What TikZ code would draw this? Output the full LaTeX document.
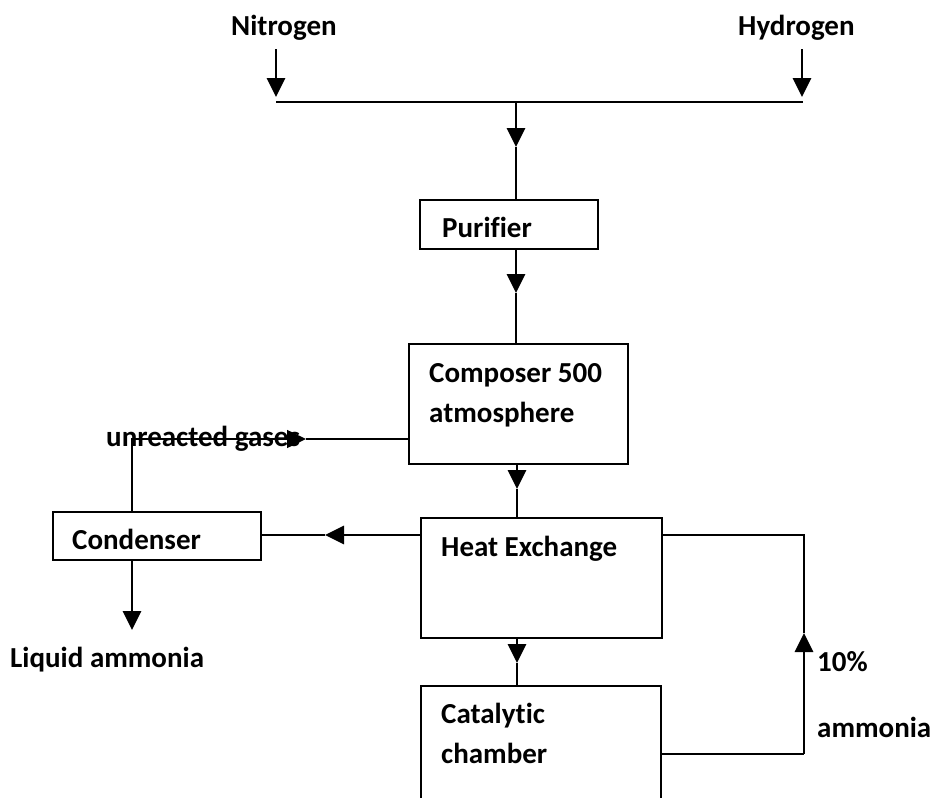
\documentclass[tikz,border=0pt]{standalone}
\usepackage{fontspec}
\setmainfont{Carlito}[Ligatures=NoCommon]
\usetikzlibrary{arrows.meta}
\tikzset{
  box/.style={draw, line width=1.6pt, inner sep=0pt, anchor=north west},
  lbl/.style={font=\fontsize{29}{40}\selectfont\bfseries, inner sep=0pt, anchor=base west, align=left},
  pipe/.style={line width=1.6pt},
  head/.style={-{Triangle[length=19pt,width=18pt]}},
  flow/.style={line width=2.8pt, head}
}
\begin{document}
\begin{tikzpicture}[x=1pt,y=-1pt]
        \useasboundingbox (0,0) rectangle (932,798);
        \clip (0,0) rectangle (932,798);

        \node[box, minimum width=178pt, minimum height=49pt] (purifier) at (419,199) {};
        \node[box, minimum width=219pt, minimum height=120pt] (composer) at (408,343) {};
        \node[box, minimum width=241pt, minimum height=120pt] (heatex) at (420,517) {};
        \node[box, minimum width=240pt, minimum height=145pt] (catalytic) at (420,685) {};
        \node[box, minimum width=208pt, minimum height=48pt] (condenser) at (52,511) {};

        \node[lbl] (nitrogen) at (231,35) {Nitrogen};
        \node[lbl] (hydrogen) at (738,35) {Hydrogen};
        \node[lbl] (purifiertext) at (442,237) {Purifier};
        \node[lbl] (composertext) at (429,422) {Composer 500\\atmosphere};
        \node[lbl] (gases) at (106,446) {unreacted gases};
        \node[lbl] (condensertext) at (72,549) {Condenser};
        \node[lbl] (heatextext) at (441,556) {Heat Exchange};
        \node[lbl] (liquid) at (10,667) {Liquid ammonia};
        \node[lbl] (catalytictext) at (441,763) {Catalytic\\chamber};
        \node[lbl] (percent) at (817,671) {10\%};
        \node[lbl] (ammonia) at (817,737) {ammonia};

        \coordinate (nin) at (276,49);
        \coordinate (nout) at (276,97);
        \coordinate (hin) at (802,49);
        \coordinate (hout) at (802,97);
        \coordinate (busl) at (276,102);
        \coordinate (busr) at (803,102);
        \coordinate (busm) at (516,102);
        \coordinate (tip1) at (516,147);
        \coordinate (tip2) at (516,293);
        \coordinate (tip3) at (517,489);
        \coordinate (tip4) at (517,663);
        \coordinate (tip5) at (325,535);
        \coordinate (gcorner) at (132,439);
        \coordinate (gtip) at (306,439);
        \coordinate (ltip) at (132,630);
        \coordinate (rcorner) at (804,754);
        \coordinate (rtip) at (804,633);
        \coordinate (rtop) at (804,535);

        \draw[flow] (nin) -- (nout);
        \draw[flow] (hin) -- (hout);
        \draw[pipe] (busl) -- (busr);
        \draw[flow] (busm) -- (tip1);
        \draw[pipe] (tip1) -- (purifier.north -| tip1);
        \draw[flow] (purifier.south -| tip2) -- (tip2);
        \draw[pipe] (tip2) -- (composer.north -| tip2);
        \draw[flow] (composer.south -| tip3) -- (tip3);
        \draw[pipe] (tip3) -- (heatex.north -| tip3);
        \draw[flow] (heatex.south -| tip4) -- (tip4);
        \draw[pipe] (tip4) -- (catalytic.north -| tip4);
        \draw[flow] (heatex.west |- tip5) -- (tip5);
        \draw[pipe] (tip5) -- (condenser.east |- tip5);
        \draw[pipe, head] (condenser.north -| gcorner) -- (gcorner) -- (gtip);
        \draw[pipe] (gtip) -- (composer.west |- gtip);
        \draw[flow] (condenser.south -| ltip) -- (ltip);
        \draw[pipe] (catalytic.east |- rcorner) -- (rcorner);
        \draw[flow] (rcorner) -- (rtip);
        \draw[pipe] (rtip) -- (rtop) -- (heatex.east |- rtop);
    \end{tikzpicture}
\end{document}
